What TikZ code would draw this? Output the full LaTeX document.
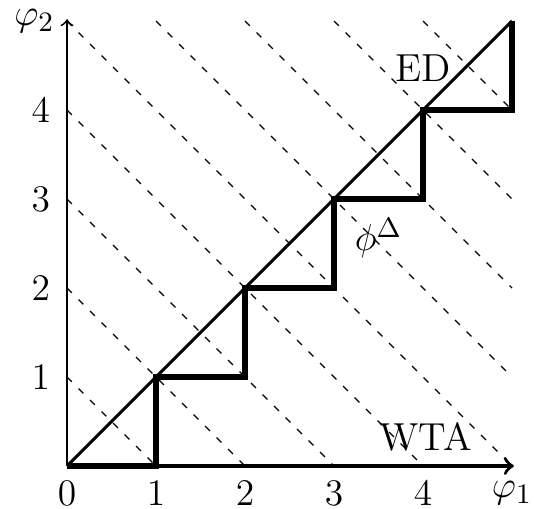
\documentclass[tikz,border=0pt]{standalone}
\begin{document}
\begin{tikzpicture}[x=1cm,y=1cm,
  lbl/.style={font=\fontsize{12.5}{14}\selectfont,inner sep=1pt},
  txt/.style={font=\fontsize{12.5}{14}\selectfont,inner sep=1pt},
  dsh/.style={line width=0.4pt,dash pattern=on 2.2pt off 3pt},
  stair/.style={line width=1.7pt,line join=miter},
  axisline/.style={line width=0.6pt,-to}]
\useasboundingbox (-0.753,-0.483) rectangle (5.247,5.236);
% dashed level lines
\foreach \c in {1,...,5}{\draw[dsh] (0,\c) -- (\c,0);}
\foreach \c in {6,...,9}{\draw[dsh] ({\c-5},5) -- (5,{\c-5});}
% coordinates
\coordinate (O) at (0,0);
\coordinate (X) at (5,0);
\coordinate (Y) at (0,5);
\coordinate (T) at (5,5);
% axes
\draw[axisline] (O) -- (0,5.02) coordinate (Ytip);
\draw[line width=1.1pt,-to] (O) -- (5.02,0) coordinate (Xtip);
% diagonal
\draw[line width=1pt] (O) -- (T);
% staircase
\draw[stair] (O) -- (1,0) -- (1,1) -- (2,1) -- (2,2) -- (3,2) -- (3,3) -- (4,3) -- (4,4) -- (5,4) -- (T);
% tick labels
\foreach \i in {0,...,4}{\node[lbl,anchor=north] (xl\i) at (\i,-0.13) {$\i$};}
\foreach \i in {1,...,4}{\node[lbl,anchor=east] (yl\i) at (-0.15,\i) {$\i$};}
\node[lbl,anchor=north] (p1) at (5,-0.13) {$\varphi_1$};
\node[lbl,anchor=east] (p2) at (-0.1,5.0) {$\varphi_2$};
% labels
\node[txt] (ED) at (4.0,4.47) {ED};
\node[txt] (WTA) at (4.03,0.33) {WTA};
\node[txt] (phi) at (3.5,2.56) {$\phi^{\Delta}$};
\end{tikzpicture}
\end{document}
